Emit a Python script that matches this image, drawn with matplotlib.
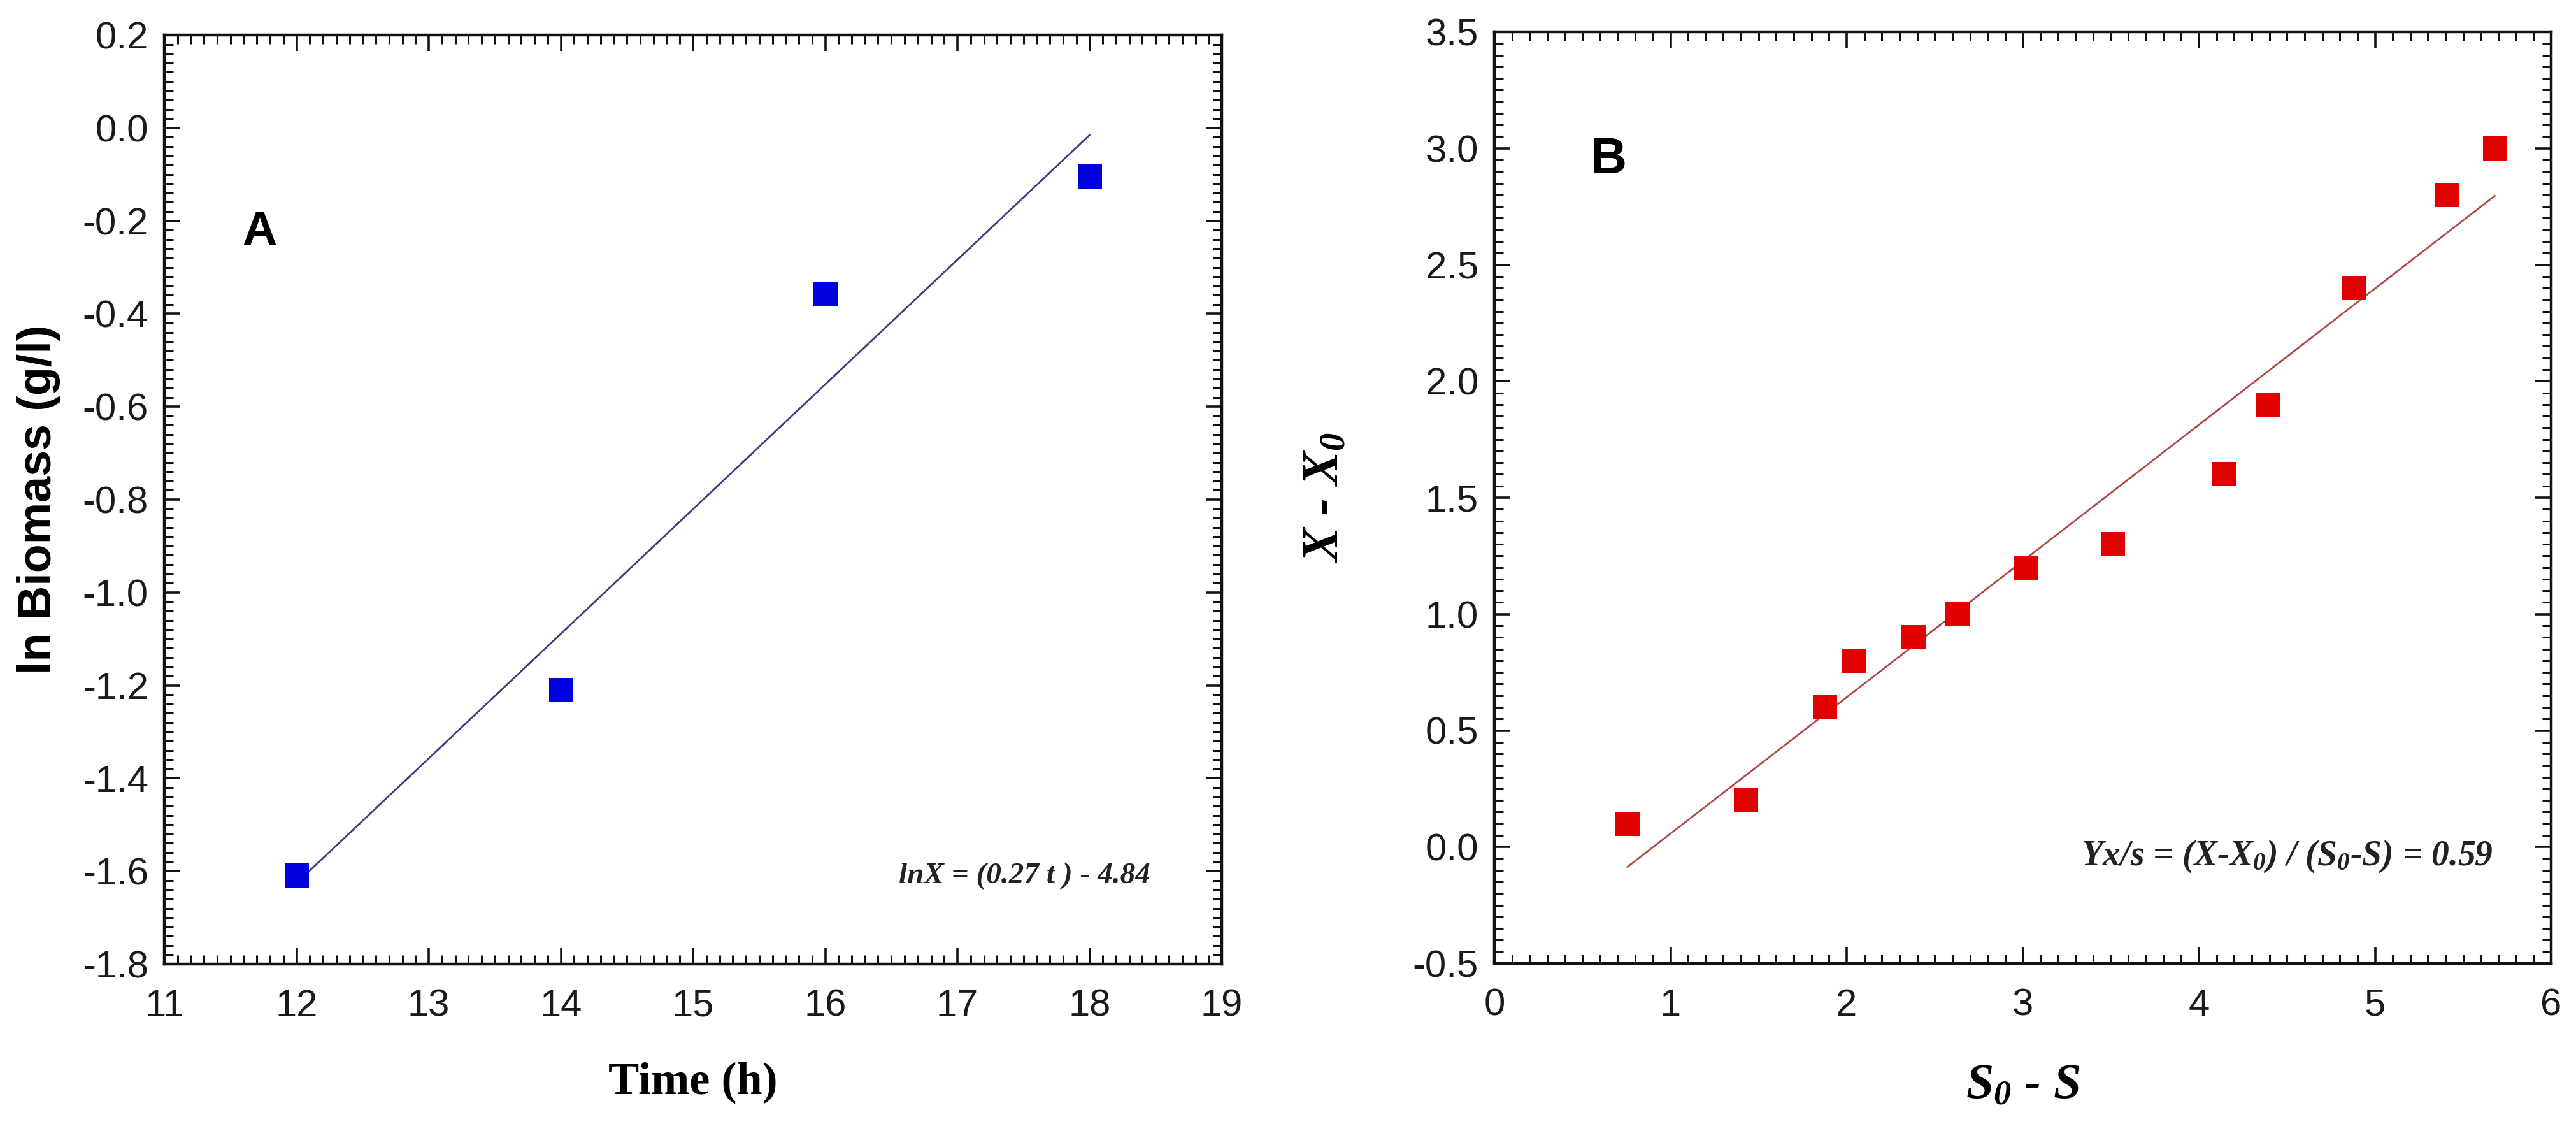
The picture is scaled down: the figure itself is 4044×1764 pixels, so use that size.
import numpy as np
import matplotlib
matplotlib.use("Agg")
import matplotlib.pyplot as plt
from matplotlib.ticker import MultipleLocator, FormatStrFormatter

# ---------------- data ----------------
time_h = [12, 14, 16, 18]
ln_biomass = [-1.61, -1.21, -0.357, -0.105]

substrate_used = [0.755, 1.43, 1.877, 2.04, 2.38, 2.63, 3.02, 3.51, 4.14, 4.39, 4.88, 5.41, 5.68]
biomass_gain = [0.1, 0.2, 0.6, 0.8, 0.9, 1.0, 1.2, 1.3, 1.6, 1.9, 2.4, 2.8, 3.0]

label_a = "A"
label_b = "B"
eq_a = "lnX = (0.27 t ) - 4.84"
eq_b = r"Yx/s = (X-X$_{0}$) / (S$_{0}$-S) = 0.59"

plt.rcParams["axes.unicode_minus"] = False
plt.rcParams["mathtext.fontset"] = "custom"
plt.rcParams["mathtext.rm"] = "Liberation Serif:bold:italic"
plt.rcParams["mathtext.it"] = "Liberation Serif:bold:italic"
plt.rcParams["mathtext.bf"] = "Liberation Serif:bold:italic"

W, H = 4044, 1764
DPI = 100
fig = plt.figure(figsize=(W / DPI, H / DPI), dpi=DPI)
fig.patch.set_facecolor("white")

def px_axes(l, t, r, b):
    return fig.add_axes([l / W, 1 - b / H, (r - l) / W, (b - t) / H])

axA = px_axes(258, 55, 1918, 1513)
axB = px_axes(2346, 50, 4005, 1512)

tick_font = dict(family="Liberation Sans", size=43)

def style(ax, xmaj, xmin, ymaj, ymin, xfmt, yfmt):
    for s in ax.spines.values():
        s.set_linewidth(3.2)
        s.set_color("#111111")
    ax.xaxis.set_major_locator(MultipleLocator(xmaj))
    ax.xaxis.set_minor_locator(MultipleLocator(xmin))
    ax.yaxis.set_major_locator(MultipleLocator(ymaj))
    ax.yaxis.set_minor_locator(MultipleLocator(ymin))
    ax.xaxis.set_major_formatter(FormatStrFormatter(xfmt))
    ax.yaxis.set_major_formatter(FormatStrFormatter(yfmt))
    ax.tick_params(which="both", direction="in", top=True, right=True,
                   colors="#111111", labelcolor="#1a1a1a")
    ax.tick_params(which="major", length=18, width=2.6)
    ax.tick_params(which="minor", length=10, width=2.2)
    ax.tick_params(axis="x", which="major", pad=28)
    ax.tick_params(axis="y", which="major", pad=18)
    for lab in ax.get_xticklabels() + ax.get_yticklabels():
        lab.set_fontfamily(tick_font["family"])
        lab.set_fontsize(tick_font["size"])

# ---------------- panel A ----------------
axA.set_xlim(11, 19)
axA.set_ylim(-1.8, 0.2)
coefA = np.polyfit(time_h, ln_biomass, 1)
tA = np.array([min(time_h), max(time_h)])
axA.plot(tA, np.polyval(coefA, tA), color="#3c3c7c", lw=2.0, zorder=2)
axA.plot(time_h, ln_biomass, linestyle="none", marker="s", markersize=27,
         color="#0000dd", markeredgewidth=0, zorder=3)
style(axA, 1, 0.1, 0.2, 0.02, "%d", "%.1f")
axA.set_xlabel("Time (h)", family="Liberation Serif", weight="bold", size=52)
axA.xaxis.set_label_coords(0.5, -0.128)
axA.xaxis.label.set_va("center")
axA.set_ylabel("ln Biomass (g/l)", family="Liberation Sans", weight="bold", size=53)
axA.yaxis.set_label_coords(-0.119, 0.5)
axA.yaxis.label.set_va("center")
axA.text(11.72, -0.225, label_a, family="Liberation Sans", weight="bold", size=54,
         ha="center", va="center")
axA.text(18.46, -1.61, eq_a, family="Liberation Serif", weight="bold", style="italic",
         size=34, ha="right", va="center", color="#222222")

# ---------------- panel B ----------------
axB.set_xlim(0, 6)
axB.set_ylim(-0.5, 3.5)
coefB = np.polyfit(substrate_used, biomass_gain, 1)
sB = np.array([min(substrate_used), max(substrate_used)])
axB.plot(sB, np.polyval(coefB, sB), color="#b04848", lw=2.0, zorder=2)
axB.plot(substrate_used, biomass_gain, linestyle="none", marker="s", markersize=27,
         color="#e00000", markeredgewidth=0, zorder=3)
style(axB, 1, 0.1, 0.5, 0.05, "%d", "%.1f")
axB.set_xlabel(r"$S_{0}$ - $S$", family="Liberation Serif", weight="bold",
               style="italic", size=56)
axB.xaxis.set_label_coords(0.5, -0.132)
axB.xaxis.label.set_va("center")
axB.set_ylabel(r"$X$ - $X_{0}$", family="Liberation Serif", weight="bold",
               style="italic", size=58)
axB.yaxis.set_label_coords(-0.159, 0.5)
axB.yaxis.label.set_va("center")
axB.text(0.65, 2.95, label_b, family="Liberation Sans", weight="bold", size=57,
         ha="center", va="center")
axB.text(5.67, -0.04, eq_b, family="Liberation Serif", weight="bold", style="italic",
         size=40, ha="right", va="center", color="#222222")

fig.savefig("out.png", dpi=DPI, facecolor="white")
